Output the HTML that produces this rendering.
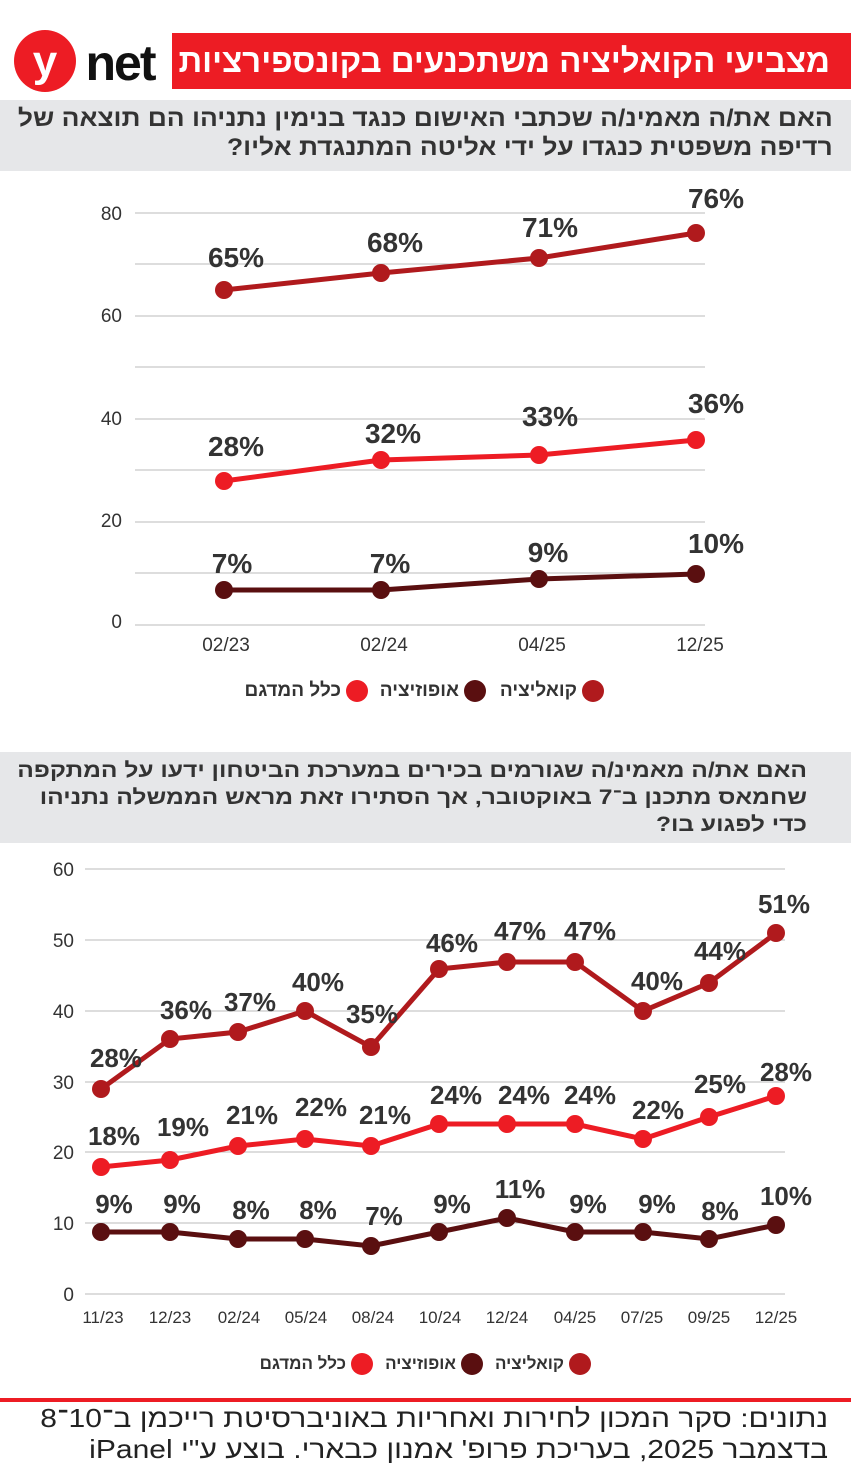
<!DOCTYPE html>
<html><head><meta charset="utf-8"><style>
body{margin:0;background:#fff;position:relative;width:851px;height:1476px;overflow:hidden}
svg{position:absolute;left:0;top:0}
svg text{font-family:"Liberation Sans","Noto Sans CJK SC",sans-serif}
.l1{font-weight:bold;font-size:28px;fill:#333;text-anchor:middle}
.l2{font-weight:bold;font-size:26px;fill:#333;text-anchor:middle}
.ax{font-size:19px;fill:#333}
.t{position:absolute;direction:rtl;text-align:right;font-family:"Liberation Sans","Noto Sans CJK SC",sans-serif;white-space:nowrap;transform-origin:right top}
.b{font-weight:bold;color:#333}
</style></head><body>
<svg width="851" height="1476" viewBox="0 0 851 1476" xmlns="http://www.w3.org/2000/svg">
<rect x="172" y="33" width="679" height="56" fill="#ed1c24"/>
<circle cx="45" cy="61" r="31" fill="#ed1c24"/>
<text x="45" y="76" text-anchor="middle" font-size="44" font-weight="bold" fill="#fff">y</text>
<text x="120" y="80" text-anchor="middle" font-size="50" font-weight="bold" fill="#111" letter-spacing="-2">net</text>
<rect x="0" y="100" width="851" height="71" fill="#e6e7e9"/>
<g stroke="#bbb" stroke-width="1">
<line x1="135" x2="705" y1="213" y2="213"/><line x1="135" x2="705" y1="264" y2="264"/><line x1="135" x2="705" y1="316" y2="316"/><line x1="135" x2="705" y1="367" y2="367"/><line x1="135" x2="705" y1="419" y2="419"/><line x1="135" x2="705" y1="470" y2="470"/><line x1="135" x2="705" y1="522" y2="522"/><line x1="135" x2="705" y1="573" y2="573"/><line x1="135" x2="705" y1="625" y2="625"/>
</g>
<g class="ax" text-anchor="end">
<text x="122" y="220">80</text><text x="122" y="322">60</text><text x="122" y="425">40</text><text x="122" y="527">20</text><text x="122" y="628">0</text>
</g>
<g class="ax" text-anchor="middle">
<text x="226" y="651">02/23</text><text x="384" y="651">02/24</text><text x="542" y="651">04/25</text><text x="700" y="651">12/25</text>
</g>
<polyline points="224,290 381,273 539,258 696,233" fill="none" stroke="#b01a1d" stroke-width="5"/>
<polyline points="224,481 381,460 539,455 696,440" fill="none" stroke="#ed1c24" stroke-width="5"/>
<polyline points="224,590 381,590 539,579 696,574" fill="none" stroke="#5a0f10" stroke-width="5"/>
<g fill="#b01a1d"><circle cx="224" cy="290" r="9"/><circle cx="381" cy="273" r="9"/><circle cx="539" cy="258" r="9"/><circle cx="696" cy="233" r="9"/></g>
<g fill="#ed1c24"><circle cx="224" cy="481" r="9"/><circle cx="381" cy="460" r="9"/><circle cx="539" cy="455" r="9"/><circle cx="696" cy="440" r="9"/></g>
<g fill="#5a0f10"><circle cx="224" cy="590" r="9"/><circle cx="381" cy="590" r="9"/><circle cx="539" cy="579" r="9"/><circle cx="696" cy="574" r="9"/></g>
<g class="l1">
<text x="236" y="267">65%</text><text x="395" y="252">68%</text><text x="550" y="237">71%</text><text x="716" y="208">76%</text>
<text x="236" y="456">28%</text><text x="393" y="443">32%</text><text x="550" y="426">33%</text><text x="716" y="413">36%</text>
<text x="232" y="573">7%</text><text x="390" y="573">7%</text><text x="548" y="562">9%</text><text x="716" y="553">10%</text>
</g>
<circle cx="593" cy="691" r="11" fill="#b01a1d"/>
<circle cx="475" cy="691" r="11" fill="#5a0f10"/>
<circle cx="357" cy="691" r="11" fill="#ed1c24"/>

<rect x="0" y="752" width="851" height="91" fill="#e6e7e9"/>
<g stroke="#bbb" stroke-width="1">
<line x1="85" x2="785" y1="869" y2="869"/><line x1="85" x2="785" y1="940" y2="940"/><line x1="85" x2="785" y1="1011" y2="1011"/><line x1="85" x2="785" y1="1082" y2="1082"/><line x1="85" x2="785" y1="1152" y2="1152"/><line x1="85" x2="785" y1="1223" y2="1223"/><line x1="85" x2="785" y1="1294" y2="1294"/>
</g>
<g class="ax" text-anchor="end">
<text x="74" y="876">60</text><text x="74" y="947">50</text><text x="74" y="1018">40</text><text x="74" y="1089">30</text><text x="74" y="1159">20</text><text x="74" y="1230">10</text><text x="74" y="1301">0</text>
</g>
<g font-size="17" fill="#333" text-anchor="middle">
<text x="103" y="1323">11/23</text><text x="170" y="1323">12/23</text><text x="239" y="1323">02/24</text><text x="306" y="1323">05/24</text><text x="373" y="1323">08/24</text><text x="440" y="1323">10/24</text><text x="507" y="1323">12/24</text><text x="575" y="1323">04/25</text><text x="642" y="1323">07/25</text><text x="709" y="1323">09/25</text><text x="776" y="1323">12/25</text>
</g>
<polyline points="101,1089 170,1039 238,1032 305,1011 371,1047 439,969 507,962 575,962 643,1011 709,983 776,933" fill="none" stroke="#b01a1d" stroke-width="5"/>
<polyline points="101,1167 170,1160 238,1146 305,1139 371,1146 439,1124 507,1124 575,1124 643,1139 709,1117 776,1096" fill="none" stroke="#ed1c24" stroke-width="5"/>
<polyline points="101,1232 170,1232 238,1239 305,1239 371,1246 439,1232 507,1218 575,1232 643,1232 709,1239 776,1225" fill="none" stroke="#5a0f10" stroke-width="5"/>
<g fill="#b01a1d"><circle cx="101" cy="1089" r="9"/><circle cx="170" cy="1039" r="9"/><circle cx="238" cy="1032" r="9"/><circle cx="305" cy="1011" r="9"/><circle cx="371" cy="1047" r="9"/><circle cx="439" cy="969" r="9"/><circle cx="507" cy="962" r="9"/><circle cx="575" cy="962" r="9"/><circle cx="643" cy="1011" r="9"/><circle cx="709" cy="983" r="9"/><circle cx="776" cy="933" r="9"/></g>
<g fill="#ed1c24"><circle cx="101" cy="1167" r="9"/><circle cx="170" cy="1160" r="9"/><circle cx="238" cy="1146" r="9"/><circle cx="305" cy="1139" r="9"/><circle cx="371" cy="1146" r="9"/><circle cx="439" cy="1124" r="9"/><circle cx="507" cy="1124" r="9"/><circle cx="575" cy="1124" r="9"/><circle cx="643" cy="1139" r="9"/><circle cx="709" cy="1117" r="9"/><circle cx="776" cy="1096" r="9"/></g>
<g fill="#5a0f10"><circle cx="101" cy="1232" r="9"/><circle cx="170" cy="1232" r="9"/><circle cx="238" cy="1239" r="9"/><circle cx="305" cy="1239" r="9"/><circle cx="371" cy="1246" r="9"/><circle cx="439" cy="1232" r="9"/><circle cx="507" cy="1218" r="9"/><circle cx="575" cy="1232" r="9"/><circle cx="643" cy="1232" r="9"/><circle cx="709" cy="1239" r="9"/><circle cx="776" cy="1225" r="9"/></g>
<g class="l2">
<text x="116" y="1067">28%</text><text x="186" y="1019">36%</text><text x="250" y="1011">37%</text><text x="318" y="991">40%</text><text x="372" y="1023">35%</text><text x="452" y="952">46%</text><text x="520" y="940">47%</text><text x="590" y="940">47%</text><text x="657" y="990">40%</text><text x="720" y="960">44%</text><text x="784" y="913">51%</text>
<text x="114" y="1145">18%</text><text x="183" y="1136">19%</text><text x="252" y="1124">21%</text><text x="321" y="1116">22%</text><text x="385" y="1124">21%</text><text x="456" y="1104">24%</text><text x="524" y="1104">24%</text><text x="590" y="1104">24%</text><text x="658" y="1119">22%</text><text x="720" y="1093">25%</text><text x="786" y="1081">28%</text>
<text x="114" y="1213">9%</text><text x="182" y="1213">9%</text><text x="251" y="1219">8%</text><text x="318" y="1219">8%</text><text x="384" y="1225">7%</text><text x="452" y="1213">9%</text><text x="520" y="1198">11%</text><text x="588" y="1213">9%</text><text x="657" y="1213">9%</text><text x="720" y="1220">8%</text><text x="786" y="1205">10%</text>
</g>
<circle cx="580" cy="1364" r="11" fill="#b01a1d"/>
<circle cx="472" cy="1364" r="11" fill="#5a0f10"/>
<circle cx="362" cy="1364" r="11" fill="#ed1c24"/>
<rect x="0" y="1398" width="851" height="4" fill="#ed1c24"/>
</svg>

<div class="t" style="right:21px;top:40px;font-size:33px;font-weight:bold;color:#fff;line-height:42px">מצביעי הקואליציה משתכנעים בקונספירציות</div>
<div class="t b" style="right:18px;top:104px;font-size:24px;line-height:29px;transform:scaleX(1.1)">האם את/ה מאמינ/ה שכתבי האישום כנגד בנימין נתניהו הם תוצאה של<br>רדיפה משפטית כנגדו על ידי אליטה המתנגדת אליו?</div>
<div class="t b" style="right:44px;top:757px;font-size:21px;line-height:27px;transform:scaleX(1.17)">האם את/ה מאמינ/ה שגורמים בכירים במערכת הביטחון ידעו על המתקפה<br>שחמאס מתכנן ב־7 באוקטובר, אך הסתירו זאת מראש הממשלה נתניהו<br>כדי לפגוע בו?</div>

<div class="t b" style="right:274px;top:679px;font-size:19px;line-height:24px">קואליציה</div>
<div class="t b" style="right:392px;top:679px;font-size:19px;line-height:24px">אופוזיציה</div>
<div class="t b" style="right:510px;top:679px;font-size:19px;line-height:24px">כלל המדגם</div>

<div class="t b" style="right:287px;top:1353px;font-size:17px;line-height:22px">קואליציה</div>
<div class="t b" style="right:395px;top:1353px;font-size:17px;line-height:22px">אופוזיציה</div>
<div class="t b" style="right:505px;top:1353px;font-size:17px;line-height:22px">כלל המדגם</div>

<div class="t" style="right:23px;top:1403px;font-size:26px;line-height:31px;color:#222;transform:scaleX(1.155)">נתונים: סקר המכון לחירות ואחריות באוניברסיטת רייכמן ב־10־8<br>בדצמבר 2025, בעריכת פרופ' אמנון כבארי. בוצע ע"י iPanel</div>
</body></html>
